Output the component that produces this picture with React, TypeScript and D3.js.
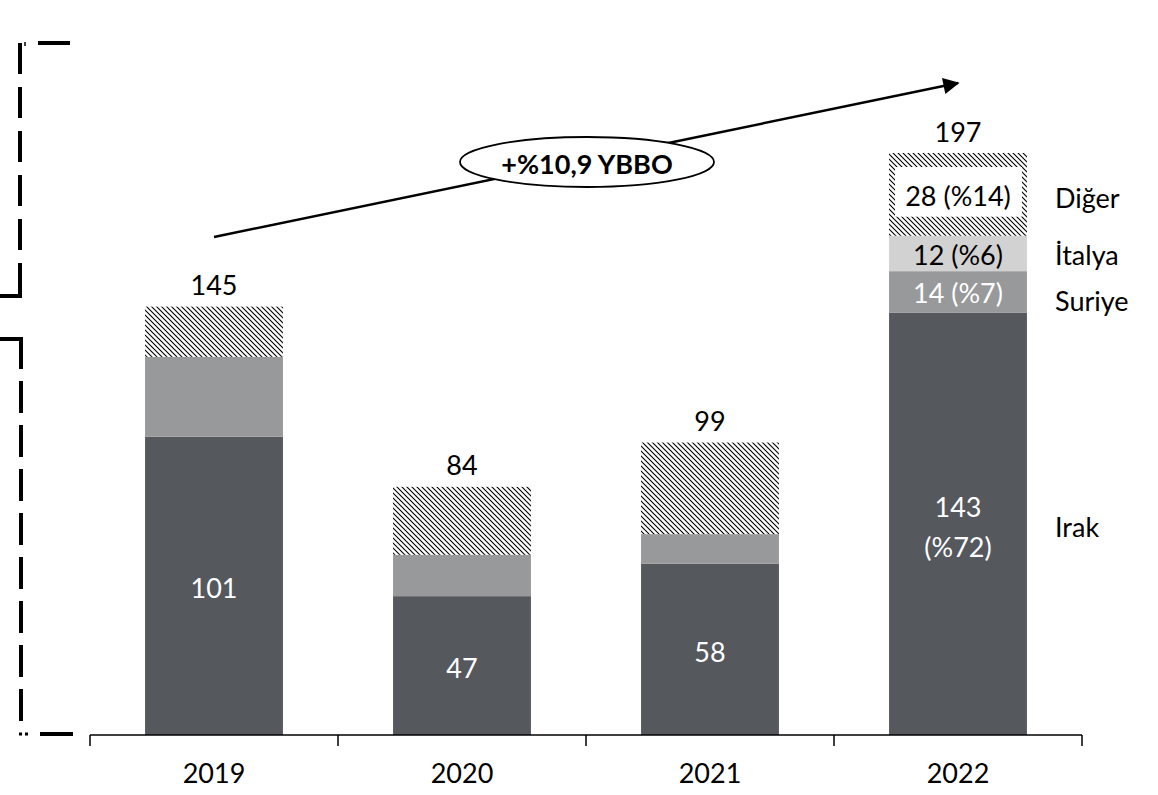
import React from "react";
import * as d3 from "d3";

const categories = ["2019", "2020", "2021", "2022"];
const irak = [101, 47, 58, 143];
const suriye = [27, 14, 10, 14];
const italya = [0, 0, 0, 12];
const diger = [17, 23, 31, 28];
const totals = [145, 84, 99, 197];
const seriesNames = ["Irak", "Suriye", "İtalya", "Diğer"];
const lastLabels = ["143\n(%72)", "14 (%7)", "12 (%6)", "28 (%14)"];
const growthLabel = "+%10,9 YBBO";

const W = 1158;
const H = 795;
const FONT = "Lato, 'Open Sans', sans-serif";
const FS = 27;

export default function App() {
  const x = d3
    .scaleBand<string>()
    .domain(categories)
    .range([90, 1082])
    .paddingInner(0.444)
    .paddingOuter(0.222);
  const y = d3.scaleLinear().domain([0, 197]).range([735, 153]);

  const rows = categories.map((c, i) => ({
    cat: c,
    Irak: irak[i],
    Suriye: suriye[i],
    "İtalya": italya[i],
    "Diğer": diger[i],
  }));
  const stack = d3.stack<any>().keys(seriesNames)(rows);
  const fills: Record<string, string> = {
    Irak: "#55585d",
    Suriye: "#98999b",
    "İtalya": "#d2d2d2",
    "Diğer": "url(#hatch)",
  };
  const step = x.step();
  const tickXs = [0, 1, 2, 3, 4].map((k) => 90 + k * step);
  const bw = x.bandwidth();
  const lastIdx = categories.length - 1;
  const lastX = (x(categories[lastIdx]) as number) + bw / 2;

  const ax1 = (x(categories[0]) as number) + bw / 2;
  const ay1 = 237;
  const ax2 = lastX;
  const ay2 = 83;

  return (
    <svg
      width={W}
      height={H}
      style={{ position: "absolute", left: 0, top: 0, background: "#fff" }}
      fontFamily={FONT}
    >
      <defs>
        <pattern id="hatch" patternUnits="userSpaceOnUse" width={5} height={5}>
          <rect width={5} height={5} fill="#fff" />
          <path d="M0,0 L5,5 M-1,4 L1,6 M4,-1 L6,1" stroke="#000" strokeWidth={1.1} />
        </pattern>
        <marker
          id="arrowhead"
          viewBox="0 0 10 10"
          refX={9}
          refY={5}
          markerWidth={7}
          markerHeight={6.5}
          markerUnits="strokeWidth"
          orient="auto"
        >
          <path d="M0,0 L10,5 L0,10 z" fill="#000" />
        </marker>
      </defs>

      {/* left decorative dashed brackets */}
      <g stroke="#000" strokeWidth={4} fill="none">
        <line x1={38} y1={43} x2={70} y2={43} />
        <line x1={25} y1={42} x2={25} y2={46} strokeWidth={1.5} />
        <line x1={20} y1={43} x2={20} y2={294} strokeDasharray="31 13" />
        <line x1={0} y1={296} x2={22} y2={296} />
        <line x1={0} y1={339} x2={22} y2={339} />
        <line x1={21} y1={337} x2={21} y2={723} strokeDasharray="32 12" />
        <line x1={19} y1={734} x2={28} y2={734} strokeDasharray="3 3" strokeWidth={3} />
        <line x1={40} y1={734} x2={73} y2={734} />
      </g>

      {/* bars */}
      {stack.map((s) => (
        <g key={s.key}>
          {s.map((d, i) =>
            d[1] - d[0] > 0 ? (
              <rect
                key={i}
                x={x(categories[i])}
                width={bw}
                y={y(d[1])}
                height={y(d[0]) - y(d[1])}
                fill={fills[s.key]}
              />
            ) : null
          )}
        </g>
      ))}

      {/* white box behind Diğer label in last bar */}
      {(() => {
        const s = stack[3][lastIdx];
        const top = y(s[1]);
        const bot = y(s[0]);
        return (
          <rect
            x={(x(categories[lastIdx]) as number) + 6}
            width={bw - 11}
            y={top + 14}
            height={bot - top - 33}
            fill="#fff"
          />
        );
      })()}

      {/* Irak labels (white) */}
      {stack[0].map((d, i) => {
        const cx = (x(categories[i]) as number) + bw / 2;
        const cy = (y(d[0]) + y(d[1])) / 2;
        if (i === lastIdx) {
          const lines = lastLabels[0].split("\n");
          return (
            <text key={i} x={cx} y={cy} textAnchor="middle" fontSize={FS} fill="#fff">
              <tspan x={cx} dy={-7}>{lines[0]}</tspan>
              <tspan x={cx} dy={40}>{lines[1]}</tspan>
            </text>
          );
        }
        return (
          <text key={i} x={cx} y={cy + 2} textAnchor="middle" dominantBaseline="central" fontSize={FS} fill="#fff">
            {irak[i]}
          </text>
        );
      })}

      {/* last bar segment labels */}
      {[1, 2, 3].map((k) => {
        const d = stack[k][lastIdx];
        const cy = (y(d[0]) + y(d[1])) / 2;
        return (
          <text
            key={k}
            x={lastX}
            y={cy + 1}
            textAnchor="middle"
            dominantBaseline="central"
            fontSize={FS}
            fill={k === 1 ? "#fff" : "#000"}
          >
            {lastLabels[k]}
          </text>
        );
      })}

      {/* totals */}
      {totals.map((t, i) => (
        <text
          key={i}
          x={(x(categories[i]) as number) + bw / 2}
          y={y(t) - 22}
          textAnchor="middle"
          dominantBaseline="central"
          fontSize={FS}
          fill="#000"
        >
          {t}
        </text>
      ))}

      {/* series labels at right */}
      {[
        { name: seriesNames[3], yy: 197 },
        { name: seriesNames[2], yy: 254 },
        { name: seriesNames[1], yy: 300 },
        { name: seriesNames[0], yy: 526 },
      ].map((l) => (
        <text key={l.name} x={1055} y={l.yy} dominantBaseline="central" fontSize={FS} fill="#000">
          {l.name}
        </text>
      ))}

      {/* axis */}
      <g stroke="#000" strokeWidth={1.5}>
        <line x1={90} x2={1082} y1={735} y2={735} />
        {tickXs.map((tx, i) => (
          <line key={i} x1={tx} x2={tx} y1={735} y2={746} />
        ))}
      </g>
      {categories.map((c) => (
        <text
          key={c}
          x={(x(c) as number) + bw / 2}
          y={772}
          textAnchor="middle"
          dominantBaseline="central"
          fontSize={FS}
          fill="#000"
        >
          {c}
        </text>
      ))}

      {/* growth arrow */}
      <line
        x1={ax1}
        y1={ay1}
        x2={ax2}
        y2={ay2}
        stroke="#000"
        strokeWidth={2.5}
        markerEnd="url(#arrowhead)"
      />
      <ellipse cx={587} cy={162} rx={127} ry={25} fill="#fff" stroke="#000" strokeWidth={1.8} />
      <text x={587} y={163} textAnchor="middle" dominantBaseline="central" fontSize={FS} fontWeight="bold" fill="#000">
        {growthLabel}
      </text>
    </svg>
  );
}
